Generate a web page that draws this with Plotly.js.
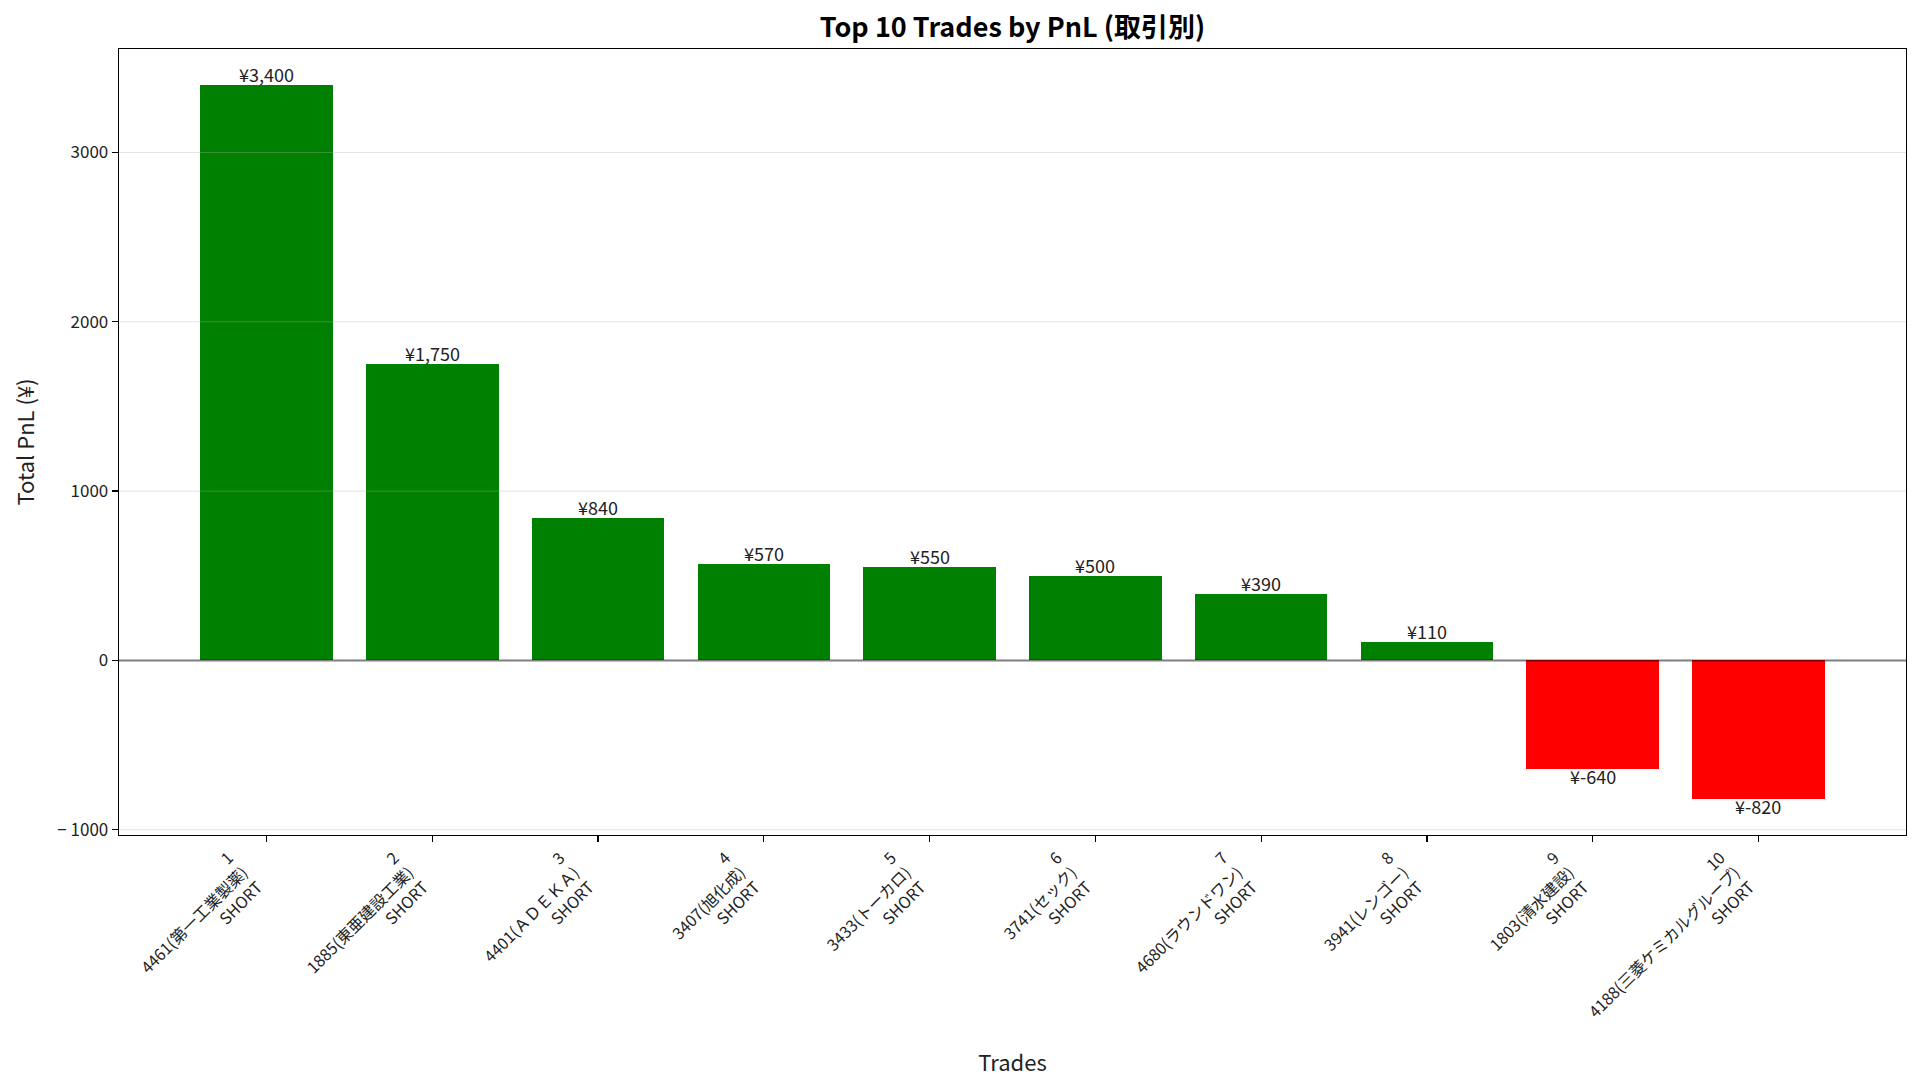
<!DOCTYPE html>
<html>
<head>
<meta charset="utf-8">
<script src="https://cdn.plot.ly/plotly-3.0.1.min.js"></script>
<style>html,body{margin:0;padding:0;background:#fff;}#chart{width:1920px;height:1089px;}</style>
</head>
<body>
<div id="chart"></div>
<script>
const ranks = [1, 2, 3, 4, 5, 6, 7, 8, 9, 10];
const codes = ["4461", "1885", "4401", "3407", "3433", "3741", "4680", "3941", "1803", "4188"];
const names = ["第一工業製薬", "東亜建設工業", "ＡＤＥＫＡ", "旭化成", "トーカロ", "セック", "ラウンドワン", "レンゴー", "清水建設", "三菱ケミカルグループ"];
const sides = ["SHORT", "SHORT", "SHORT", "SHORT", "SHORT", "SHORT", "SHORT", "SHORT", "SHORT", "SHORT"];
const pnl = [3400, 1750, 840, 570, 550, 500, 390, 110, -640, -820];
const yTicks = [-1000, 0, 1000, 2000, 3000];

const FONT = "'Noto Sans CJK JP', 'Noto Sans', sans-serif";
const xs = ranks.map((r, i) => i);
const tickText = ranks.map((r, i) => `${r}<br>${codes[i]}(${names[i]})<br>${sides[i]}`);
const labels = pnl.map(v => "¥" + (v < 0 ? "-" : "") + Math.abs(v).toLocaleString("en-US"));
const colors = pnl.map(v => v >= 0 ? "#008000" : "#ff0000");

const gridShapes = yTicks.filter(v => v !== 0).map(v => ({
  type: "line", xref: "paper", yref: "y", x0: 0, x1: 1, y0: v, y1: v,
  line: {color: "rgba(176,176,176,0.35)", width: 1}, layer: "above"
}));
gridShapes.push({
  type: "line", xref: "paper", yref: "y", x0: 0, x1: 1, y0: 0, y1: 0,
  line: {color: "rgba(0,0,0,0.5)", width: 2}, layer: "above"
});

const valueLabels = xs.map((x, i) => ({
  x: x, y: pnl[i], xref: "x", yref: "y",
  text: labels[i], showarrow: false,
  xanchor: "center", yanchor: pnl[i] >= 0 ? "bottom" : "top",
  yshift: pnl[i] >= 0 ? -3 : 7,
  borderpad: 0,
  font: {family: FONT, size: 18, color: "#222"}
}));

const trace = {
  type: "bar",
  x: xs,
  y: pnl,
  width: 0.8,
  marker: {color: colors, line: {width: 0}},
  hoverinfo: "skip"
};

const layout = {
  width: 1920,
  height: 1089,
  paper_bgcolor: "#fff",
  plot_bgcolor: "#fff",
  margin: {l: 119, r: 14, t: 49, b: 254},
  showlegend: false,
  bargap: 0,
  font: {family: FONT, color: "#222"},
  title: {
    text: "<b>Top 10 Trades by PnL (取引別)</b>",
    font: {family: FONT, size: 27, color: "#000"},
    xref: "paper", x: 0.5, xanchor: "center", y: 0.975, yanchor: "middle"
  },
  xaxis: {
    range: [-0.89, 9.89],
    tickmode: "array",
    tickvals: xs,
    ticktext: tickText,
    tickangle: -45,
    ticklabelshift: -38,
    tickfont: {family: FONT, size: 16, color: "#222"},
    ticks: "outside", ticklen: 6, tickwidth: 1.3, tickcolor: "#000",
    showgrid: false, zeroline: false,
    showline: true, linecolor: "#000", linewidth: 1.3, mirror: true,
    title: {text: "Trades", font: {family: FONT, size: 22, color: "#222"}, standoff: 19},
    automargin: false
  },
  yaxis: {
    range: [-1031, 3611],
    tickmode: "array",
    tickvals: yTicks,
    ticktext: yTicks.map(v => v < 0 ? "− " + Math.abs(v) : String(v)),
    tickfont: {family: FONT, size: 17, color: "#222"},
    ticks: "outside", ticklen: 6, tickwidth: 1.3, tickcolor: "#000",
    showgrid: false, zeroline: false,
    showline: true, linecolor: "#000", linewidth: 1.3, mirror: true,
    title: {text: "Total PnL (¥)", font: {family: FONT, size: 22, color: "#222"}, standoff: 16},
    automargin: false
  },
  shapes: gridShapes,
  annotations: valueLabels
};

Plotly.newPlot("chart", [trace], layout, {staticPlot: true, displayModeBar: false});
</script>
</body>
</html>
